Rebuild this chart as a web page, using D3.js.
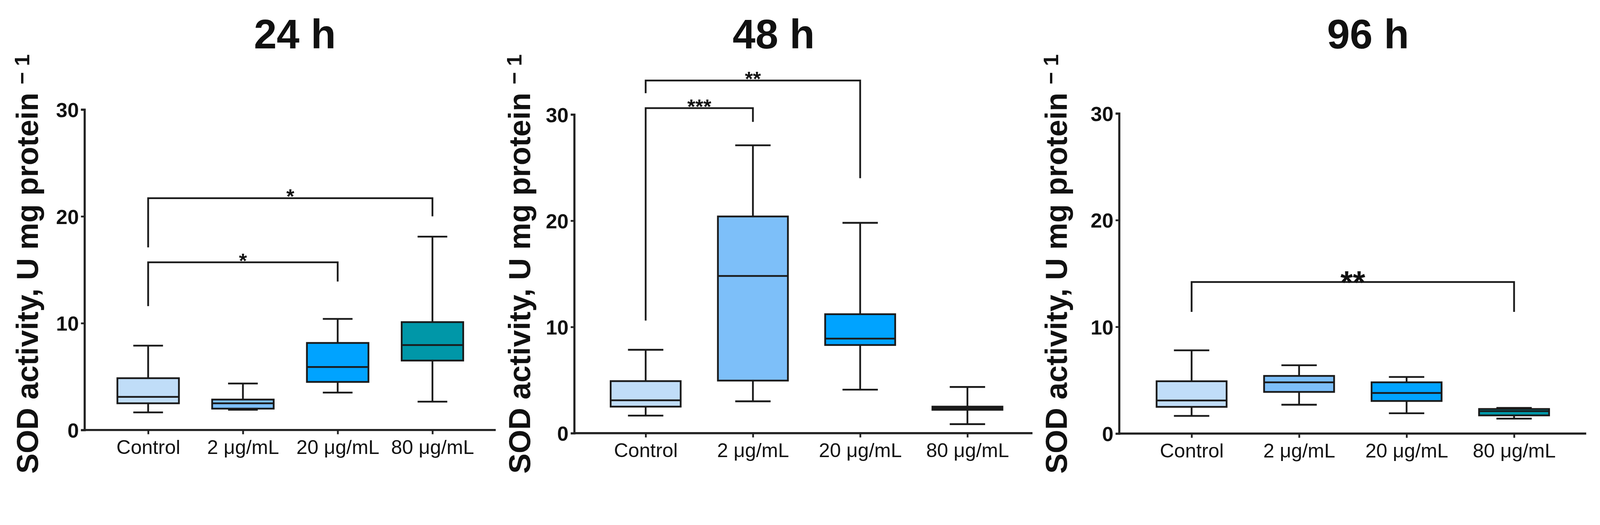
<!DOCTYPE html>
<html>
<head>
<meta charset="utf-8">
<script src="https://cdn.jsdelivr.net/npm/d3@7"></script>
<style>
  html, body { margin: 0; padding: 0; background: #fff; overflow: hidden; }
  svg { display: block; width: 100vw; height: auto; }
  text { font-family: "Liberation Sans", Arial, sans-serif; fill: #111; }
</style>
</head>
<body>
<svg id="chart" viewBox="0 0 4525 1345" preserveAspectRatio="xMidYMid meet"></svg>
<script>
const groups = ['Control', '2 μg/mL', '20 μg/mL', '80 μg/mL'];
const fills = ['#c0ddf8', '#7dbff9', '#00a3ff', '#0097a8'];
const titles = ['24 h', '48 h', '96 h'];
const yTicks = [0, 10, 20, 30];

// [min, q1, median, q3, max] per group
const stats24 = [[1.65, 2.5, 3.1, 4.85, 7.9], [1.9, 2.0, 2.5, 2.85, 4.35], [3.5, 4.5, 5.9, 8.15, 10.4], [2.65, 6.5, 7.95, 10.1, 18.1]];
const stats48 = [[1.65, 2.5, 3.1, 4.9, 7.85], [3.0, 4.95, 14.8, 20.4, 27.1], [4.1, 8.3, 8.9, 11.2, 19.8], [0.85, 2.2, 2.35, 2.5, 4.35]];
const stats96 = [[1.65, 2.5, 3.1, 4.9, 7.8], [2.7, 3.9, 4.8, 5.4, 6.4], [1.9, 3.05, 3.8, 4.8, 5.3], [1.4, 1.7, 2.1, 2.3, 2.4]];

// significance brackets: from group, to group, top, left foot, right foot, label
const sig24 = [[0, 2, 15.7, 11.6, 13.9, '*'], [0, 3, 21.7, 17.1, 20.0, '*']];
const sig48 = [[0, 1, 30.6, 10.6, 29.3, '***'], [0, 2, 33.2, 32.0, 24.0, '**']];
const sig96 = [[0, 3, 14.2, 11.4, 11.4, '**']];

const panels = [
  { stats: stats24, sig: sig24, x0: 239, x1: 1402, yTop: 310, yBot: 1217, cats: [419, 1223], box: 174, cap: 84, labelX: 77, titleX: 834, starSize: 58 },
  { stats: stats48, sig: sig48, x0: 1624, x1: 2920, yTop: 324, yBot: 1226, cats: [1826, 2736], box: 198, cap: 100, labelX: 1469, titleX: 2188, starSize: 58 },
  { stats: stats96, sig: sig96, x0: 3165, x1: 4486, yTop: 321, yBot: 1227, cats: [3370, 4282], box: 198, cap: 100, labelX: 2987, titleX: 3869, starSize: 90 }
];

const narrow = '"Liberation Sans Narrow", "Liberation Sans", sans-serif';
const svg = d3.select('#chart');

panels.forEach((p, pi) => {
  const g = svg.append('g');
  const y = d3.scaleLinear().domain([0, 30]).range([p.yBot, p.yTop]);
  const x = d3.scalePoint().domain(groups).range(p.cats);

  g.append('text').attr('x', p.titleX).attr('y', 137).attr('text-anchor', 'middle')
    .attr('font-size', 116).attr('font-weight', 'bold').attr('font-family', narrow).text(titles[pi]);

  const yAxis = g.append('g').attr('transform', `translate(${p.x0},0)`)
    .call(d3.axisLeft(y).tickValues(yTicks).tickSize(10).tickPadding(6));
  yAxis.select('.domain').attr('stroke', '#222').attr('stroke-width', 6);
  yAxis.selectAll('.tick line').attr('stroke', '#222').attr('stroke-width', 5);
  yAxis.selectAll('.tick text').attr('font-size', 58).attr('font-weight', 'bold').attr('dy', '0.36em')
    .attr('font-family', narrow);

  const xAxis = g.append('g').attr('transform', `translate(0,${p.yBot})`)
    .call(d3.axisBottom(x).tickSize(12).tickPadding(16).tickSizeOuter(0));
  xAxis.select('.domain').attr('d', `M${p.x0},0H${p.x1}`).attr('stroke', '#222').attr('stroke-width', 6);
  xAxis.selectAll('.tick line').attr('stroke', '#222').attr('stroke-width', 5);
  xAxis.selectAll('.tick text').attr('font-size', 56).attr('font-family', narrow);

  const lab = g.append('text').attr('transform', `translate(${p.labelX},747) rotate(-90)`)
    .attr('text-anchor', 'middle').attr('font-size', 86).attr('font-weight', 'bold')
    .attr('font-family', narrow).attr('dy', '0.35em');
  lab.append('tspan').text('SOD activity, U mg protein ');
  lab.append('tspan').attr('dy', '-0.4em').attr('font-size', 60).text('− 1');

  p.stats.forEach((s, i) => {
    const cx = x(groups[i]);
    const bx = g.append('g');
    bx.append('line').attr('x1', cx).attr('x2', cx).attr('y1', y(s[0])).attr('y2', y(s[1]));
    bx.append('line').attr('x1', cx).attr('x2', cx).attr('y1', y(s[3])).attr('y2', y(s[4]));
    bx.append('line').attr('x1', cx - p.cap / 2).attr('x2', cx + p.cap / 2).attr('y1', y(s[0])).attr('y2', y(s[0]));
    bx.append('line').attr('x1', cx - p.cap / 2).attr('x2', cx + p.cap / 2).attr('y1', y(s[4])).attr('y2', y(s[4]));
    bx.append('rect').attr('x', cx - p.box / 2).attr('width', p.box)
      .attr('y', y(s[3])).attr('height', y(s[1]) - y(s[3])).attr('fill', fills[i]);
    bx.append('line').attr('x1', cx - p.box / 2).attr('x2', cx + p.box / 2).attr('y1', y(s[2])).attr('y2', y(s[2]));
    bx.selectAll('line, rect').attr('stroke', '#1a1a1a').attr('stroke-width', 5);
  });

  p.sig.forEach(([a, b, top, fa, fb, lbl]) => {
    const xa = x(groups[a]), xb = x(groups[b]);
    g.append('path')
      .attr('d', `M${xa},${y(fa)}V${y(top)}H${xb}V${y(fb)}`)
      .attr('fill', 'none').attr('stroke', '#1a1a1a').attr('stroke-width', 5);
    g.append('text').attr('x', (xa + xb) / 2).attr('y', y(top) - 14).attr('text-anchor', 'middle')
      .attr('font-size', p.starSize).attr('font-weight', 'bold').attr('dy', '0.5em').text(lbl);
  });
});
</script>
</body>
</html>
